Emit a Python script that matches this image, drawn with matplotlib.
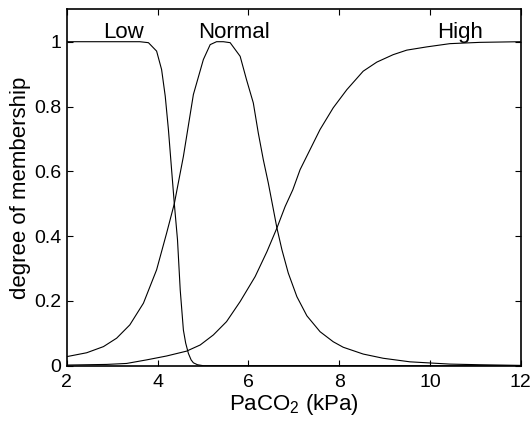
import matplotlib
matplotlib.use('Agg')
import matplotlib.pyplot as plt

plt.rcParams['font.family'] = ['Liberation Sans', 'DejaVu Sans']

#Membership curves
low_x = [2.0, 3.61, 3.80, 3.98, 4.09, 4.17, 4.24, 4.31, 4.37, 4.44, 4.50, 4.57, 4.62, 4.68, 4.74, 4.79, 4.88, 5.01, 12.0]
low_y = [1.0, 1.0, 0.997, 0.971, 0.914, 0.832, 0.729, 0.605, 0.50, 0.389, 0.234, 0.11, 0.07, 0.038, 0.018, 0.009, 0.003, 0.0, 0.0]

normal_x = [2.0, 2.44, 2.81, 3.10, 3.39, 3.69, 3.98, 4.20, 4.37, 4.57, 4.79, 5.01, 5.16, 5.30, 5.45,
            5.60, 5.82, 5.96, 6.11, 6.22, 6.33, 6.44, 6.54, 6.63, 6.74, 6.88, 7.07, 7.29, 7.58, 7.87,
            8.09, 8.53, 8.97, 9.56, 10.44, 11.1, 12.0]
normal_y = [0.028, 0.040, 0.059, 0.085, 0.126, 0.193, 0.296, 0.409, 0.50, 0.646, 0.837, 0.945, 0.991, 1.0, 1.0,
            0.997, 0.955, 0.883, 0.811, 0.718, 0.636, 0.564, 0.491, 0.425, 0.358, 0.286, 0.213, 0.154, 0.105, 0.074,
            0.057, 0.036, 0.023, 0.012, 0.005, 0.003, 0.001]

high_x = [2.0, 2.88, 3.32, 3.76, 4.20, 4.64, 4.94, 5.23, 5.52, 5.82, 6.15, 6.41, 6.63, 6.81, 6.98, 7.14,
          7.36, 7.58, 7.87, 8.17, 8.53, 8.83, 9.19, 9.49, 9.93, 10.44, 11.1, 12.0]
high_y = [0.002, 0.004, 0.007, 0.018, 0.030, 0.045, 0.064, 0.095, 0.136, 0.198, 0.275, 0.352, 0.425, 0.491, 0.543, 0.605,
          0.667, 0.729, 0.796, 0.852, 0.909, 0.937, 0.960, 0.974, 0.984, 0.994, 0.998, 1.0]

labels = ['Low', 'Normal', 'High']
label_x = [3.25, 5.69, 10.67]

fig = plt.figure(figsize=(5.32, 4.25), dpi=100)
ax = fig.add_axes([0.1254, 0.1395, 0.8534, 0.8386])

for xs, ys in [(low_x, low_y), (normal_x, normal_y), (high_x, high_y)]:
    ax.plot(xs, ys, color='black', linewidth=0.8)

for name, lx in zip(labels, label_x):
    ax.text(lx, 1.012, name, ha='center', va='baseline', fontsize=16)

ax.set_xlim(2, 12)
ax.set_ylim(0, 1.1)
ax.set_xticks([2, 4, 6, 8, 10, 12])
ax.set_xticklabels(['2', '4', '6', '8', '10', '12'])
ax.set_yticks([0, 0.2, 0.4, 0.6, 0.8, 1])
ax.set_yticklabels(['0', '0.2', '0.4', '0.6', '0.8', '1'])
ax.tick_params(direction='in', length=4, width=0.8, labelsize=14, top=True, right=True)
ax.tick_params(axis='x', pad=6)
ax.tick_params(axis='y', pad=4)
for s in ax.spines.values():
    s.set_linewidth(1.2)

ax.set_xlabel(r'$\mathregular{PaCO_2}$ (kPa)', fontsize=16, labelpad=1)
ax.set_ylabel('degree of membership', fontsize=16, labelpad=2)

fig.savefig('out.png', dpi=100)
